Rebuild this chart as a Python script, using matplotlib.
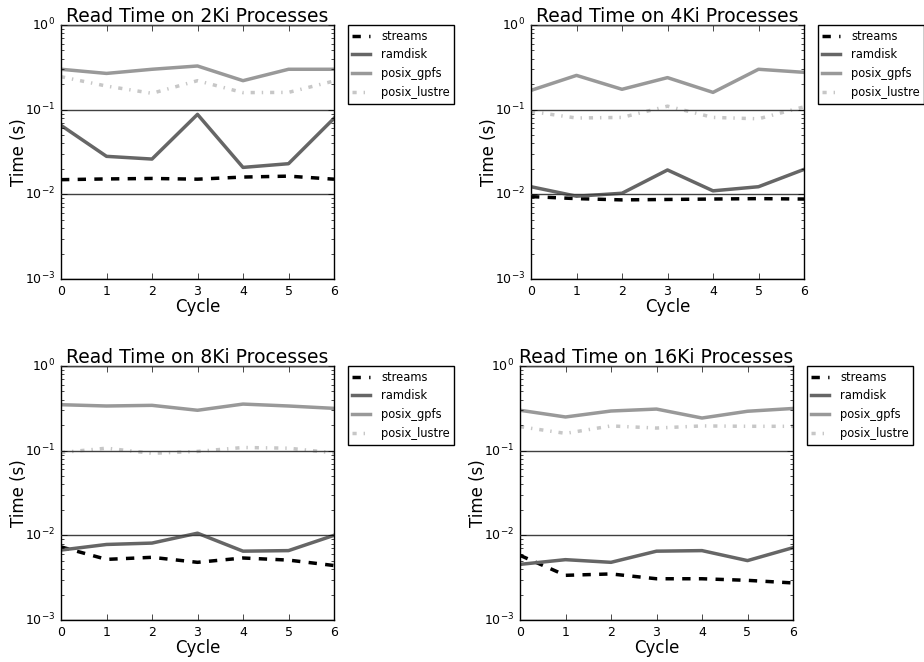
import matplotlib
matplotlib.use("Agg")
import matplotlib.pyplot as plt
from matplotlib.ticker import LogLocator, FixedLocator

plt.style.use("classic")

cycles = [0, 1, 2, 3, 4, 5, 6]
series_names = ["streams", "ramdisk", "posix_gpfs", "posix_lustre"]
titles = ["Read Time on 2Ki Processes", "Read Time on 4Ki Processes",
          "Read Time on 8Ki Processes", "Read Time on 16Ki Processes"]

p2k_streams = [0.0149, 0.0152, 0.0154, 0.0151, 0.0160, 0.0164, 0.0151]
p2k_ramdisk = [0.0653, 0.0281, 0.0261, 0.088, 0.0208, 0.0230, 0.079]
p2k_gpfs = [0.300, 0.268, 0.300, 0.328, 0.220, 0.300, 0.300]
p2k_lustre = [0.245, 0.190, 0.156, 0.220, 0.159, 0.160, 0.218]

p4k_streams = [0.0094, 0.0089, 0.0086, 0.0087, 0.0088, 0.0089, 0.0088]
p4k_ramdisk = [0.0123, 0.0095, 0.0103, 0.0194, 0.0110, 0.0123, 0.0197]
p4k_gpfs = [0.169, 0.254, 0.174, 0.239, 0.160, 0.300, 0.276]
p4k_lustre = [0.095, 0.0797, 0.081, 0.110, 0.081, 0.078, 0.108]

p8k_streams = [0.0073, 0.0052, 0.0055, 0.0048, 0.0054, 0.0051, 0.0044]
p8k_ramdisk = [0.0067, 0.0078, 0.0081, 0.0106, 0.0065, 0.0066, 0.0100]
p8k_gpfs = [0.349, 0.337, 0.343, 0.300, 0.355, 0.337, 0.316]
p8k_lustre = [0.095, 0.107, 0.093, 0.098, 0.109, 0.107, 0.094]

p16k_streams = [0.0058, 0.00337, 0.0035, 0.00307, 0.00307, 0.00294, 0.00274]
p16k_ramdisk = [0.00454, 0.00516, 0.0048, 0.0065, 0.0066, 0.00503, 0.00715]
p16k_gpfs = [0.300, 0.250, 0.294, 0.310, 0.243, 0.292, 0.315]
p16k_lustre = [0.192, 0.160, 0.196, 0.185, 0.196, 0.194, 0.194]

panels = [
    [p2k_streams, p2k_ramdisk, p2k_gpfs, p2k_lustre],
    [p4k_streams, p4k_ramdisk, p4k_gpfs, p4k_lustre],
    [p8k_streams, p8k_ramdisk, p8k_gpfs, p8k_lustre],
    [p16k_streams, p16k_ramdisk, p16k_gpfs, p16k_lustre],
]

styles = [
    dict(color="black", linestyle="--", linewidth=2.5),
    dict(color="0.4", linestyle="-", linewidth=2.5),
    dict(color="0.6", linestyle="-", linewidth=2.5),
    dict(color="0.78", linestyle="-.", linewidth=2.5),
]

W, H = 924, 662
fig = plt.figure(figsize=(W / 100, H / 100), dpi=100, facecolor="white")

# axes pixel boxes: left, top, right, bottom
boxes = [(61, 25, 334, 279), (531, 25, 804, 279),
         (61, 366, 334, 620), (520, 366, 793, 620)]

for box, title, data in zip(boxes, titles, panels):
    l, t, r, b = box
    ax = fig.add_axes([l / W, 1 - b / H, (r - l) / W, (b - t) / H])
    ax.set_facecolor("white")
    for name, vals, st in zip(series_names, data, styles):
        ax.plot(cycles, vals, label=name, **st)
    ax.set_yscale("log")
    ax.set_ylim(1e-3, 1)
    ax.set_xlim(0, 6)
    ax.xaxis.set_major_locator(FixedLocator(cycles))
    ax.yaxis.set_major_locator(LogLocator(base=10))
    ax.yaxis.set_minor_locator(LogLocator(base=10, subs=range(2, 10)))
    ax.yaxis.grid(True, which="major", linestyle="-", color="0.25", linewidth=1.0)
    ax.xaxis.grid(False)
    ax.tick_params(axis="both", which="major", labelsize=9, direction="in",
                   length=4, top=True, right=True)
    ax.tick_params(axis="both", which="minor", direction="in", length=2,
                   top=True, right=True)
    ax.set_title(title, fontsize=13.5, pad=2)
    ax.set_xlabel("Cycle", fontsize=12, labelpad=0)
    ax.set_ylabel("Time (s)", fontsize=12, labelpad=-2)
    leg = ax.legend(loc="upper left", bbox_to_anchor=(1.05, 1.0), fontsize=8.3,
                    handlelength=1.5, handletextpad=1.0, borderaxespad=0,
                    fancybox=False, frameon=True, numpoints=1)
    leg.get_frame().set_edgecolor("black")
    leg.get_frame().set_linewidth(1.0)

fig.savefig("out.png", dpi=100, facecolor="white")
